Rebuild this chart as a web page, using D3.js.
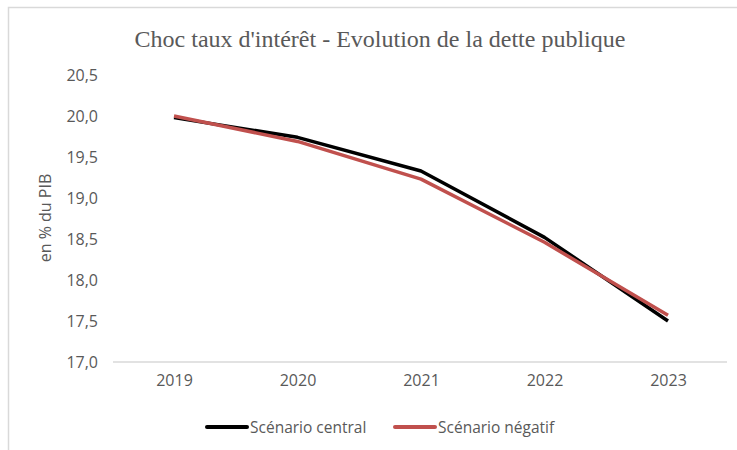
<!DOCTYPE html>
<head>
  <meta charset="utf-8">
  <script src="https://d3js.org/d3.v7.min.js"></script>
  <style>
    body { margin:0; background:#fff; }
    .tick text { font-family: "Open Sans", "Noto Sans", sans-serif; font-size: 16px; fill: #595959; }
  </style>
</head>
<body>
<script>
  // data
  var years = ["2019", "2020", "2021", "2022", "2023"];
  var central = [19.98, 19.74, 19.33, 18.52, 17.50];
  var negatif = [20.00, 19.69, 19.23, 18.46, 17.57];
  var yTicks = [17.0, 17.5, 18.0, 18.5, 19.0, 19.5, 20.0, 20.5];
  var seriesNames = ["Scénario central", "Scénario négatif"];
  var colors = ["#000000", "#C0504D"];

  var W = 737, H = 450;

  var svg = d3.select("body").append("svg")
    .attr("width", W)
    .attr("height", H);

  // chart frame (goes past the right/bottom edges)
  svg.append("rect")
    .attr("x", 8.5).attr("y", 7.5)
    .attr("width", W).attr("height", H)
    .attr("fill", "none")
    .attr("stroke", "#d9d9d9")
    .attr("stroke-width", 1.5);

  svg.append("text")
    .attr("x", 380).attr("y", 47)
    .attr("text-anchor", "middle")
    .attr("font-family", "Liberation Serif, serif")
    .attr("font-size", 24)
    .attr("fill", "#595959")
    .text("Choc taux d'intérêt - Evolution de la dette publique");

  var x = d3.scalePoint()
    .domain(years)
    .range([174, 668]);

  var y = d3.scaleLinear()
    .domain([17, 20.5])
    .range([362, 75]);

  // x axis
  svg.append("line")
    .attr("x1", 113).attr("x2", 727)
    .attr("y1", y(17)).attr("y2", y(17))
    .attr("stroke", "#d9d9d9").attr("stroke-width", 1.5);

  var xAxis = svg.append("g")
    .attr("transform", "translate(0," + y(17) + ")")
    .call(d3.axisBottom(x).tickSize(0).tickPadding(13));
  xAxis.select(".domain").remove();

  var fmt = function(d) { return d3.format(".1f")(d).replace(".", ","); };
  var yAxis = svg.append("g")
    .attr("transform", "translate(98,0)")
    .call(d3.axisLeft(y).tickValues(yTicks).tickFormat(fmt).tickSize(0).tickPadding(0));
  yAxis.select(".domain").remove();

  svg.append("text")
    .attr("transform", "translate(51,218) rotate(-90)")
    .attr("text-anchor", "middle")
    .attr("font-family", "Open Sans, Noto Sans, sans-serif")
    .attr("font-size", 16)
    .attr("fill", "#595959")
    .text("en % du PIB");

  var line = d3.line()
    .x(function(d, i) { return x(years[i]); })
    .y(function(d) { return y(d); });

  svg.selectAll(".line").data([central, negatif]).enter()
    .append("path")
    .attr("class", "line")
    .attr("d", function(d) { return line(d); })
    .attr("fill", "none")
    .attr("stroke", function(d, i) { return colors[i]; })
    .attr("stroke-width", 3.5)
    .attr("stroke-linejoin", "round");

  // legend
  var legendX = [207, 395];
  var legend = svg.selectAll(".legend").data(seriesNames).enter()
    .append("g")
    .attr("class", "legend")
    .attr("transform", function(d, i) { return "translate(" + legendX[i] + ",427)"; });

  legend.append("line")
    .attr("x1", 0).attr("x2", 40)
    .attr("stroke", function(d, i) { return colors[i]; })
    .attr("stroke-width", 4)
    .attr("stroke-linecap", "round");

  legend.append("text")
    .attr("x", 43).attr("y", 5.5)
    .attr("font-family", "Open Sans, Noto Sans, sans-serif")
    .attr("font-size", 15.5)
    .attr("fill", "#595959")
    .text(function(d) { return d; });
</script>
</body>
